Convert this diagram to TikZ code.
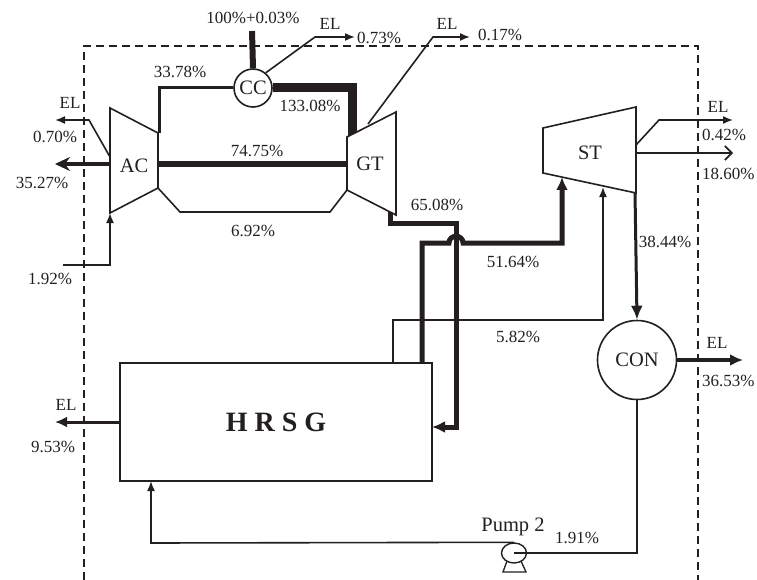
\documentclass[tikz,border=0pt]{standalone}
\usepackage{fontspec}
\setmainfont{Liberation Serif}
\usetikzlibrary{arrows.meta,shapes.geometric,backgrounds}
\definecolor{ink}{HTML}{231F20}
\begin{document}
\begin{tikzpicture}[x=1pt,y=-1pt,
  ln/.style={draw=ink, line width=1.6pt},
  outl/.style={draw=ink, line width=1.6pt, fill=white, line join=miter},
  pct/.style={font=\fontsize{17}{20}\selectfont, text=ink, inner sep=0pt},
  comp/.style={font=\fontsize{20.5}{24}\selectfont, text=ink, inner sep=0pt},
  tip/.style={-{Latex[length=10pt,width=8pt]}},
  bigtip/.style={-{Latex[length=13pt,width=12pt]}},
  boundary/.style={draw=ink, line width=1.4pt, dash pattern=on 8pt off 5pt}
]
\useasboundingbox (0,0) rectangle (757,580);

% system boundary
\draw[boundary] (84,580) -- (84,46) -- (698,46) -- (698,580);

% components
\node[circle, outl, comp, minimum size=38pt] (CC) at (253,88) {CC};
\node[circle, outl, comp, minimum size=79pt] (CON) at (637,360) {CON};
\node[outl, minimum width=312pt, minimum height=118pt, inner sep=0pt,
      font=\fontsize{28}{32}\selectfont\bfseries, text=ink] (HRSG) at (276,422) {H R S G};
\node[ellipse, draw=ink, line width=1.4pt, minimum width=25pt, minimum height=20pt, inner sep=0pt] (P2) at (514,553) {};

% turbomachines (trapezoids)
\draw[outl] (110,108) coordinate (ac1) -- (158,133) coordinate (ac2) -- (158,188) coordinate (ac3) -- (110,213) coordinate (ac4) -- cycle;
\node[comp] (AC) at (134,166) {AC};
\draw[outl] (347,137) coordinate (gt1) -- (396,112) coordinate (gt2) -- (396,215) coordinate (gt3) -- (347,190) coordinate (gt4) -- cycle;
\node[comp] (GT) at (370,164) {GT};
\draw[outl] (543,128) coordinate (st1) -- (636,107) coordinate (st2) -- (636,193) coordinate (st3) -- (543,173) coordinate (st4) -- cycle;
\node[comp] (ST) at (590,153) {ST};

% pump stand
\draw[draw=ink, line width=1.3pt, line join=miter] (507,561) -- (503,572) -- (526,572) -- (521,561);

% coordinates
\coordinate (inTop) at (252,31);
\coordinate (ccE1) at (315,37);  \coordinate (ccE2) at (355,37);
\coordinate (c33a) at (159,88);  \coordinate (c33b) at (159,133);
\coordinate (c133a) at (352,88); \coordinate (c133b) at (352,140);
\coordinate (acL1) at (110,157); \coordinate (acL2) at (89,120); \coordinate (acL3) at (55,120);
\coordinate (acM) at (110,164);  \coordinate (acOut) at (55,164);
\coordinate (acR) at (158,164);  \coordinate (gtL) at (350,164);
\coordinate (in192) at (63,265); \coordinate (k192) at (110,265);
\coordinate (b1) at (180,212);   \coordinate (b2) at (330,212);
\coordinate (gtE0) at (368,124); \coordinate (gtE1) at (433,37); \coordinate (gtE2) at (470,37);
\coordinate (x1) at (390,205);   \coordinate (x2) at (390,223); \coordinate (x3) at (456,223);
\coordinate (x4) at (456,427);   \coordinate (hrsgR) at (432,427);
\coordinate (s1) at (422,363);   \coordinate (s2) at (422,243); \coordinate (s3) at (449,243);
\coordinate (s4) at (463,243);   \coordinate (s5) at (562,243); \coordinate (s6) at (562,177);
\coordinate (f1) at (393,363);   \coordinate (f2) at (393,320); \coordinate (f3) at (603,320);
\coordinate (f4) at (603,187);
\coordinate (stE0) at (636,145); \coordinate (stE1) at (659,120); \coordinate (stE2) at (733,120);
\coordinate (stH) at (636,153);  \coordinate (stH2) at (733,153);
\coordinate (stB) at (635,193);
\coordinate (conE) at (743,360);
\coordinate (hEL) at (55,422);
\coordinate (cb) at (638,553);
\coordinate (pl) at (151,543);   \coordinate (hb) at (151,481);

% pump inlet line (enters to the pump centre)
\draw[ln, line join=miter] (CON.south) -- (CON.south |- cb) -- (P2.center);

% connectors
\begin{scope}[on background layer]
\draw[ink, line width=6pt] (inTop) -- (CC.north);
\draw[ln, tip] (CC.50) -- (ccE1) -- (ccE2);
\draw[ink, line width=3pt, line join=miter] (CC.west) -- (c33a) -- (c33b);
\draw[ink, line width=9pt, line join=miter] (CC.east) -- (c133a) -- (c133b);
\draw[ln, tip] (acL1) -- (acL2) -- (acL3);
\draw[ink, line width=4pt, -{Stealth[length=15pt,width=14pt,inset=5pt]}] (acM) -- (acOut);
\draw[ink, line width=6pt] (acR) -- (gtL);
\draw[ln, tip] (in192) -- (k192) -- (ac4);
\draw[ln, line join=miter] (ac3) -- (b1) -- (b2) -- (gt4);
\draw[ln, tip] (gtE0) -- (gtE1) -- (gtE2);
\draw[ink, line width=5pt, line join=miter, bigtip] (x1) -- (x2) -- (x3) -- (x4) -- (hrsgR);
\draw[ink, line width=5pt, line join=miter, bigtip] (s1) -- (s2) -- (s3) .. controls (449,234) and (463,234) .. (s4) -- (s5) -- (s6);
\draw[ln, tip, line join=miter] (f1) -- (f2) -- (f3) -- (f4);
\draw[ln, tip] (stE0) -- (stE1) -- (stE2);
\draw[ln, -{Straight Barb[length=7pt,width=14pt]}] (stH) -- (stH2);
\draw[ink, line width=3pt, -{Latex[length=14pt,width=12pt]}] (stB) -- (CON.north);
\draw[ink, line width=4pt, bigtip] (CON.east) -- (conE);
\draw[ink, line width=3pt, -{Latex[length=12pt,width=11pt]}] (HRSG.west |- 0,422) -- (hEL);
\draw[ln, tip, line join=miter] (P2.north) -- (pl) -- (hb);
\end{scope}

% labels
\node[pct] (l1) at (253,18) {100\%+0.03\%};
\node[pct] (l2) at (330,24) {EL};
\node[pct, anchor=west] (l3) at (357,38) {0.73\%};
\node[pct] (l4) at (447,24) {EL};
\node[pct] (l5) at (500,35) {0.17\%};
\node[pct] (l6) at (180,72) {33.78\%};
\node[pct] (l7) at (310,106) {133.08\%};
\node[pct] (l8) at (70,103) {EL};
\node[pct] (l9) at (55,137) {0.70\%};
\node[pct] (l10) at (257,151) {74.75\%};
\node[pct] (l11) at (42,183) {35.27\%};
\node[pct] (l12) at (253,231) {6.92\%};
\node[pct] (l13) at (50,279) {1.92\%};
\node[pct] (l14) at (437,205) {65.08\%};
\node[pct] (l15) at (513,262) {51.64\%};
\node[pct] (l16) at (518,337) {5.82\%};
\node[pct] (l17) at (665,242) {38.44\%};
\node[pct] (l18) at (718,107) {EL};
\node[pct, anchor=west] (l19) at (702,135) {0.42\%};
\node[pct, anchor=west] (l20) at (702,174) {18.60\%};
\node[pct] (l21) at (717,343) {EL};
\node[pct, anchor=west] (l22) at (702,381) {36.53\%};
\node[pct] (l23) at (66,405) {EL};
\node[pct] (l24) at (53,447) {9.53\%};
\node[comp] (l25) at (513,527) {Pump 2};
\node[pct] (l26) at (577,538) {1.91\%};
\end{tikzpicture}
\end{document}
